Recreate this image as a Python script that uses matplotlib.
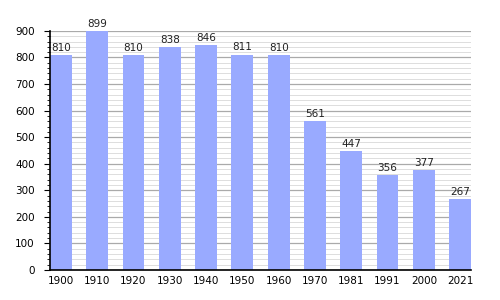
import matplotlib
matplotlib.use('Agg')
import matplotlib.pyplot as plt
import numpy as np
from matplotlib.ticker import MultipleLocator

years = ['1900', '1910', '1920', '1930', '1940', '1950', '1960', '1970', '1981', '1991', '2000', '2021']
population = [810, 899, 810, 838, 846, 811, 810, 561, 447, 356, 377, 267]

fig = plt.figure(figsize=(5, 3), dpi=100)
ax = fig.add_axes([0.1, 0.1, 0.842, 0.797])

x = np.arange(len(years))
ax.bar(x, population, width=0.6, color='#99aaff', zorder=2)

## value labels above bars
for xi, v in zip(x, population):
    ax.text(xi, v + 8, str(v), ha='center', va='bottom', fontsize=7.5, color='#222222', zorder=3)

ax.set_xlim(-0.3, 11.3)
ax.set_ylim(0, 900)
ax.set_xticks(x, years)
ax.yaxis.set_major_locator(MultipleLocator(100))
ax.yaxis.set_minor_locator(MultipleLocator(20))

ax.grid(axis='y', which='major', color='#aaaaaa', linewidth=0.9, zorder=0)
ax.grid(axis='y', which='minor', color='#dddddd', linewidth=0.7, zorder=0)

for s in ['top', 'right']:
    ax.spines[s].set_visible(False)
ax.spines['left'].set_linewidth(1.2)
ax.spines['bottom'].set_linewidth(1.2)

ax.tick_params(axis='y', which='major', length=4, direction='out', labelsize=7.5, pad=7)
ax.tick_params(axis='y', which='minor', length=2, direction='out')
ax.tick_params(axis='x', length=0, labelsize=7.5, pad=4)

plt.savefig('out.png', dpi=100)
